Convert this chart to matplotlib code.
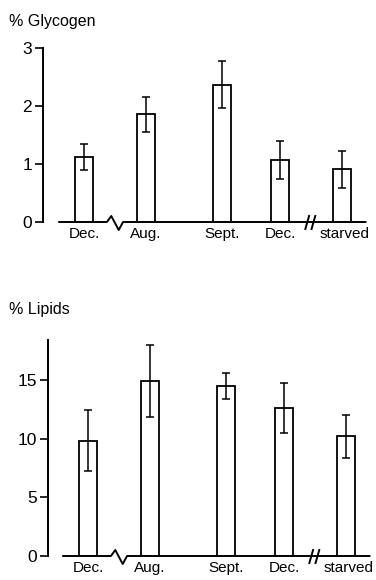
import matplotlib.pyplot as plt
import numpy as np

plt.rcParams['font.family'] = ['Liberation Sans', 'DejaVu Sans']

labels = ["Dec.", "Aug.", "Sept.", "Dec.", "starved"]

glycogen = [1.12, 1.86, 2.37, 1.07, 0.91]
glycogen_err = [0.22, 0.30, 0.40, 0.32, 0.32]

lipids = [9.8, 14.9, 14.5, 12.6, 10.2]
lipids_err = [2.6, 3.1, 1.1, 2.1, 1.85]

# layout: irregular spacing of the groups along the broken time axis
pos = np.array([0.0, 1.0, 2.22, 3.16, 4.16])
bar_w = 0.29


def draw_panel(ax, vals, errs, ylim, yticks, xlim, px_per_unit):
    ax.bar(pos, vals, width=bar_w, color="white", edgecolor="black",
           linewidth=1.3, zorder=2)
    ax.errorbar(pos, vals, yerr=errs, fmt="none", ecolor="black",
                elinewidth=1.1, capsize=3, capthick=1.1, zorder=3)

    ax.set_xlim(*xlim)
    ax.set_ylim(*ylim)
    ax.set_yticks(yticks)
    ax.set_xticks([])
    for s in ["top", "right", "bottom"]:
        ax.spines[s].set_visible(False)
    ax.spines["left"].set_linewidth(1.4)
    ax.spines["left"].set_bounds(0, ylim[1])
    ax.tick_params(axis="y", length=5.5, width=1.2, pad=2.5, labelsize=12.5)

    # baseline with a zigzag break and a double slash
    dy = lambda p: p / px_per_unit
    z0 = pos[0] + 0.37
    xs = [pos[0] - 0.4, z0, z0 + 0.07, z0 + 0.19, z0 + 0.26, pos[4] + 0.38]
    ys = [0, 0, dy(6), dy(-8), 0, 0]
    ax.plot(xs, ys, color="black", lw=1.4, clip_on=False, zorder=4)
    s0 = pos[3] + 0.44
    for off in [0.0, 0.1]:
        ax.plot([s0 + off - 0.03, s0 + off + 0.03], [dy(-7), dy(6)],
                color="black", lw=1.4, clip_on=False, zorder=4)

    for p, lab in zip(pos, labels):
        ax.text(p + (0.05 if lab == "starved" else 0), -dy(5), lab,
                ha="center", va="top", fontsize=11, clip_on=False)


fig = plt.figure(figsize=(3.76, 5.80), dpi=100)

# top panel: y axis at x=43px, zero at y=222px, 3 at y=48px
ax1 = fig.add_axes([43 / 376, (580 - 222) / 580, 333 / 376, 174 / 580])
draw_panel(ax1, glycogen, glycogen_err, (0, 3), [0, 1, 2, 3],
           ((43 - 84) / 62, (376 - 84) / 62), 58.0)

# bottom panel: y axis at x=48px, zero at y=556px, top at y=340px
ax2 = fig.add_axes([48 / 376, (580 - 556) / 580, 328 / 376, 216 / 580])
draw_panel(ax2, lipids, lipids_err, (0, 18.4), [0, 5, 10, 15],
           ((48 - 88) / 62, (376 - 88) / 62), 11.75)

fig.text(9 / 376, 1 - 26 / 580, "% Glycogen", ha="left", va="baseline",
         fontsize=11.5)
fig.text(9 / 376, 1 - 314 / 580, "% Lipids", ha="left", va="baseline",
         fontsize=11.5)

fig.savefig("out.png", dpi=100)
